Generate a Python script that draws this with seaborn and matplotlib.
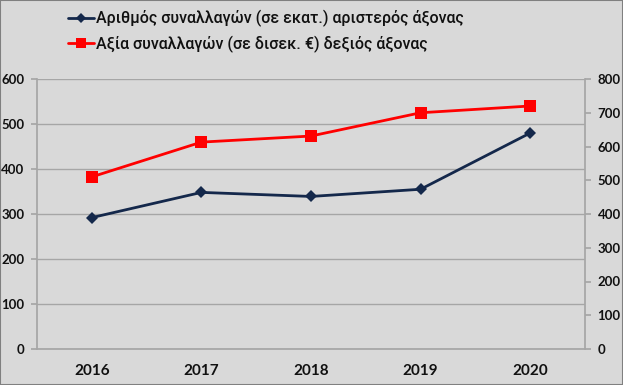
import matplotlib
matplotlib.use("Agg")
import matplotlib.pyplot as plt
import seaborn as sns
import pandas as pd
from matplotlib.lines import Line2D

years = ["2016", "2017", "2018", "2019", "2020"]
count_millions = [292, 348, 339, 355, 480]
value_billions = [510, 613, 631, 700, 720]
label_count = "Αριθμός συναλλαγών (σε εκατ.) αριστερός άξονας"
label_value = "Αξία συναλλαγών (σε δισεκ. €) δεξιός άξονας"

sns.set_theme(style="white")
plt.rcParams['font.family'] = ['Lato', 'DejaVu Sans']

bg = "#d9d9d9"
fig = plt.figure(figsize=(6.23, 3.85), dpi=100, facecolor=bg)
ax = fig.add_axes([37/623, 36/385, 548/623, 270/385])
ax.set_facecolor(bg)

df = pd.DataFrame({"year": years, "count": count_millions, "value": value_billions})
df["x"] = range(len(years))

sns.lineplot(data=df, x="x", y="count", ax=ax, color="#14284b", marker="D",
             markersize=6.5, linewidth=2, markeredgewidth=0)
ax.set_ylim(0, 600)
ax.set_yticks(range(0, 601, 100))
ax.set_xlim(-0.5, 4.5)
ax.set_xticks(range(len(years)))
ax.set_xticklabels(years)
ax.set_xlabel("")
ax.set_ylabel("")
ax.grid(axis="y", color="#a6a6a6", linewidth=1)
ax.set_axisbelow(True)

ax2 = ax.twinx()
sns.lineplot(data=df, x="x", y="value", ax=ax2, color="#ff0000", marker="s",
             markersize=8.5, linewidth=2, markeredgewidth=0)
ax2.set_ylim(0, 800)
ax2.set_yticks(range(0, 801, 100))
ax2.set_ylabel("")

for a in (ax, ax2):
    for s in a.spines.values():
        s.set_visible(False)
for a, side in ((ax, "left"), (ax2, "right")):
    a.spines[side].set_visible(True)
    a.spines[side].set_color("#a6a6a6")
ax.spines["bottom"].set_visible(True)
ax.spines["bottom"].set_color("#a6a6a6")

ax.tick_params(axis="y", length=4, color="#a6a6a6", labelsize=9.5, pad=5)
ax.tick_params(axis="x", length=0, labelsize=11, pad=11)
ax2.tick_params(axis="y", length=4, color="#a6a6a6", labelsize=9.5, pad=5)
for t in ax.get_yticklabels() + ax.get_xticklabels() + ax2.get_yticklabels():
    t.set_fontweight("bold")
    t.set_color("#111111")

handles = [
    Line2D([], [], color="#14284b", marker="D", markersize=5.5, linewidth=2, markeredgewidth=0),
    Line2D([], [], color="#ff0000", marker="s", markersize=7.5, linewidth=2, markeredgewidth=0),
]
leg = fig.legend(handles, [label_count, label_value], loc="upper left",
                 bbox_to_anchor=(58/623, 1.0), frameon=False,
                 handlelength=1.6, handletextpad=0.1, labelspacing=0.5,
                 borderaxespad=0.25,
                 prop={"family": ["Roboto", "DejaVu Sans"], "size": 11.5, "weight": "medium"})
for t in leg.get_texts():
    t.set_color("#111111")

fig.patches.append(plt.Rectangle((0, 0), 1, 1, transform=fig.transFigure,
                                 fill=False, edgecolor="#808080", linewidth=1.5))
fig.savefig("out.png", dpi=100, facecolor=bg)
